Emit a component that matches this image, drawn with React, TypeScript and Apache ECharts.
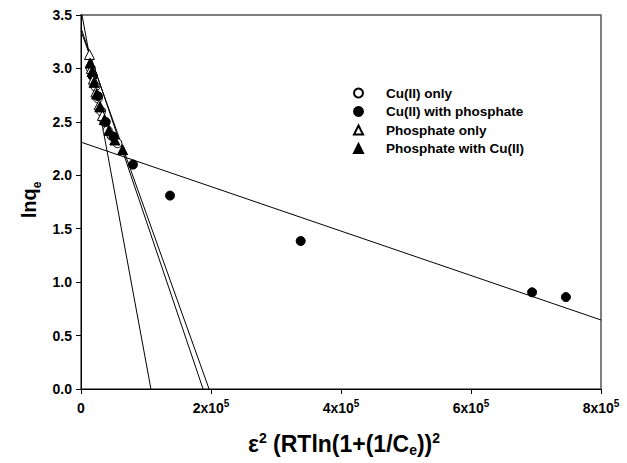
import React, { useEffect, useRef } from "react";
import * as echarts from "echarts";

// Data (x: ε², y: ln qe)
const cuOnlyX = [15e3, 18e3, 22e3, 26e3, 31e3, 36e3, 41e3, 47e3, 56e3];
const cuOnlyY = [3.0, 2.93, 2.83, 2.72, 2.6, 2.5, 2.42, 2.37, 2.3];

const cuWithPX = [18e3, 26e3, 38e3, 50e3, 80e3, 137e3, 338e3, 694e3, 746e3];
const cuWithPY = [2.93, 2.74, 2.5, 2.36, 2.1, 1.81, 1.385, 0.905, 0.86];

const phosOnlyX = [13e3, 16e3, 19e3, 23e3, 28e3, 33e3];
const phosOnlyY = [3.13, 3.0, 2.9, 2.78, 2.66, 2.56];

const phosWithCuX = [14e3, 17e3, 20e3, 24e3, 29e3, 36e3, 43e3, 52e3, 64e3];
const phosWithCuY = [3.05, 2.97, 2.87, 2.76, 2.64, 2.52, 2.42, 2.33, 2.24];

// Fitted D-R lines: y = intercept + slope * x
const fitIntercepts = [3.55, 3.38, 3.35, 2.31];
const fitSlopes = [-3.3e-5, -1.8e-5, -1.7e-5, -2.08e-6];

const seriesNames = [
  "Cu(II) only",
  "Cu(II) with phosphate",
  "Phosphate only",
  "Phosphate with Cu(II)",
];

const xMin = 0;
const xMax = 800000;
const xInterval = 200000;
const yMin = 0;
const yMax = 3.5;
const yInterval = 0.5;

const FONT = "'Liberation Sans', Arial, Helvetica, sans-serif";

const zip = (xs: number[], ys: number[]) => xs.map((x, i) => [x, ys[i]]);

export default function App() {
  const ref = useRef<HTMLDivElement>(null);

  useEffect(() => {
    if (!ref.current) return;
    const chart = echarts.init(ref.current, undefined, { renderer: "svg" });

    const fitLines = fitIntercepts.map((b, i) => {
      const m = fitSlopes[i];
      const xEnd = Math.min(xMax, -b / m);
      return {
        type: "line",
        name: "fit" + i,
        data: [
          [xMin, b + m * xMin],
          [xEnd, b + m * xEnd],
        ],
        symbol: "none",
        silent: true,
        clip: true,
        lineStyle: { color: "#000", width: 1 },
        z: 1,
      };
    });

    const markerBase = { type: "scatter", symbolSize: 9, z: 3 };

    chart.setOption({
      animation: false,
      backgroundColor: "#fff",
      grid: {
        left: 81,
        right: 26,
        top: 15,
        bottom: 74,
        show: true,
        borderColor: "#555",
        borderWidth: 1.5,
        backgroundColor: "transparent",
      },
      legend: {
        data: seriesNames,
        orient: "vertical",
        left: 348,
        top: 81,
        itemWidth: 9,
        itemHeight: 9,
        itemGap: 4.5,
        formatter: (n: string) => `{g|}{t|${n}}`,
        textStyle: {
          rich: {
            g: { width: 18 },
            t: {
              fontFamily: FONT,
              fontSize: 13.5,
              fontWeight: "bold",
              color: "#000",
              lineHeight: 14,
            },
          },
        },
      },
      xAxis: {
        type: "value",
        min: xMin,
        max: xMax,
        interval: xInterval,
        axisLine: { show: true, lineStyle: { color: "#000", width: 1 } },
        axisTick: { show: true, inside: false, length: 5, lineStyle: { color: "#000" } },
        splitLine: { show: false },
        axisLabel: {
          margin: 9,
          formatter: (v: number) =>
            v === 0 ? "{b|0}" : `{b|${v / 1e5}x10}{sup|5}`,
          rich: {
            b: {
              fontFamily: FONT,
              fontSize: 14,
              fontWeight: "bold",
              color: "#000",
              lineHeight: 20,
            },
            sup: {
              fontFamily: FONT,
              fontSize: 10,
              fontWeight: "bold",
              color: "#000",
              lineHeight: 10,
              verticalAlign: "top",
            },
          },
        },
      },
      yAxis: {
        type: "value",
        min: yMin,
        max: yMax,
        interval: yInterval,
        axisLine: { show: true, lineStyle: { color: "#000", width: 1 } },
        axisTick: { show: true, inside: false, length: 5, lineStyle: { color: "#000" } },
        splitLine: { show: false },
        axisLabel: {
          margin: 9,
          formatter: (v: number) => v.toFixed(1),
          fontFamily: FONT,
          fontSize: 14,
          fontWeight: "bold",
          color: "#000",
        },
      },
      graphic: [
        {
          type: "text",
          x: 31,
          y: 200,
          rotation: Math.PI / 2,
          style: {
            text: "{t|lnq}{s|e}",
            align: "center",
            verticalAlign: "middle",
            rich: {
              t: {
                fontFamily: FONT,
                fontSize: 20,
                fontWeight: "bold",
                fill: "#000",
                lineHeight: 24,
                verticalAlign: "top",
              },
              s: {
                fontFamily: FONT,
                fontSize: 12,
                fontWeight: "bold",
                fill: "#000",
                lineHeight: 14,
                verticalAlign: "bottom",
              },
            },
          },
        },
        {
          type: "text",
          x: 344,
          y: 444,
          style: {
            text: "{t|ε}{sup|2}{t| (RTln(1+(1/C}{sub|e}{t|))}{sup|2}",
            align: "center",
            verticalAlign: "middle",
            rich: {
              t: {
                fontFamily: FONT,
                fontSize: 23,
                fontWeight: "bold",
                fill: "#000",
                lineHeight: 26,
              },
              sup: {
                fontFamily: FONT,
                fontSize: 14,
                fontWeight: "bold",
                fill: "#000",
                lineHeight: 12,
                verticalAlign: "top",
              },
              sub: {
                fontFamily: FONT,
                fontSize: 14,
                fontWeight: "bold",
                fill: "#000",
                lineHeight: 12,
                verticalAlign: "bottom",
              },
            },
          },
        },
      ],
      series: [
        ...fitLines,
        {
          ...markerBase,
          name: seriesNames[0],
          symbol: "circle",
          data: zip(cuOnlyX, cuOnlyY),
          itemStyle: { color: "#fff", borderColor: "#000", borderWidth: 1, opacity: 1 },
        },
        {
          ...markerBase,
          name: seriesNames[1],
          symbol: "circle",
          data: zip(cuWithPX, cuWithPY),
          itemStyle: { color: "#000", borderColor: "#000", borderWidth: 1, opacity: 1 },
        },
        {
          ...markerBase,
          name: seriesNames[2],
          symbol: "triangle",
          symbolSize: 10,
          data: zip(phosOnlyX, phosOnlyY),
          itemStyle: { color: "#fff", borderColor: "#000", borderWidth: 1, opacity: 1 },
        },
        {
          ...markerBase,
          name: seriesNames[3],
          symbol: "triangle",
          symbolSize: 10,
          data: zip(phosWithCuX, phosWithCuY),
          itemStyle: { color: "#000", borderColor: "#000", borderWidth: 1, opacity: 1 },
        },
      ],
    });

    return () => chart.dispose();
  }, []);

  return (
    <div
      ref={ref}
      style={{ position: "fixed", left: 0, top: 0, width: 627, height: 463 }}
    />
  );
}
